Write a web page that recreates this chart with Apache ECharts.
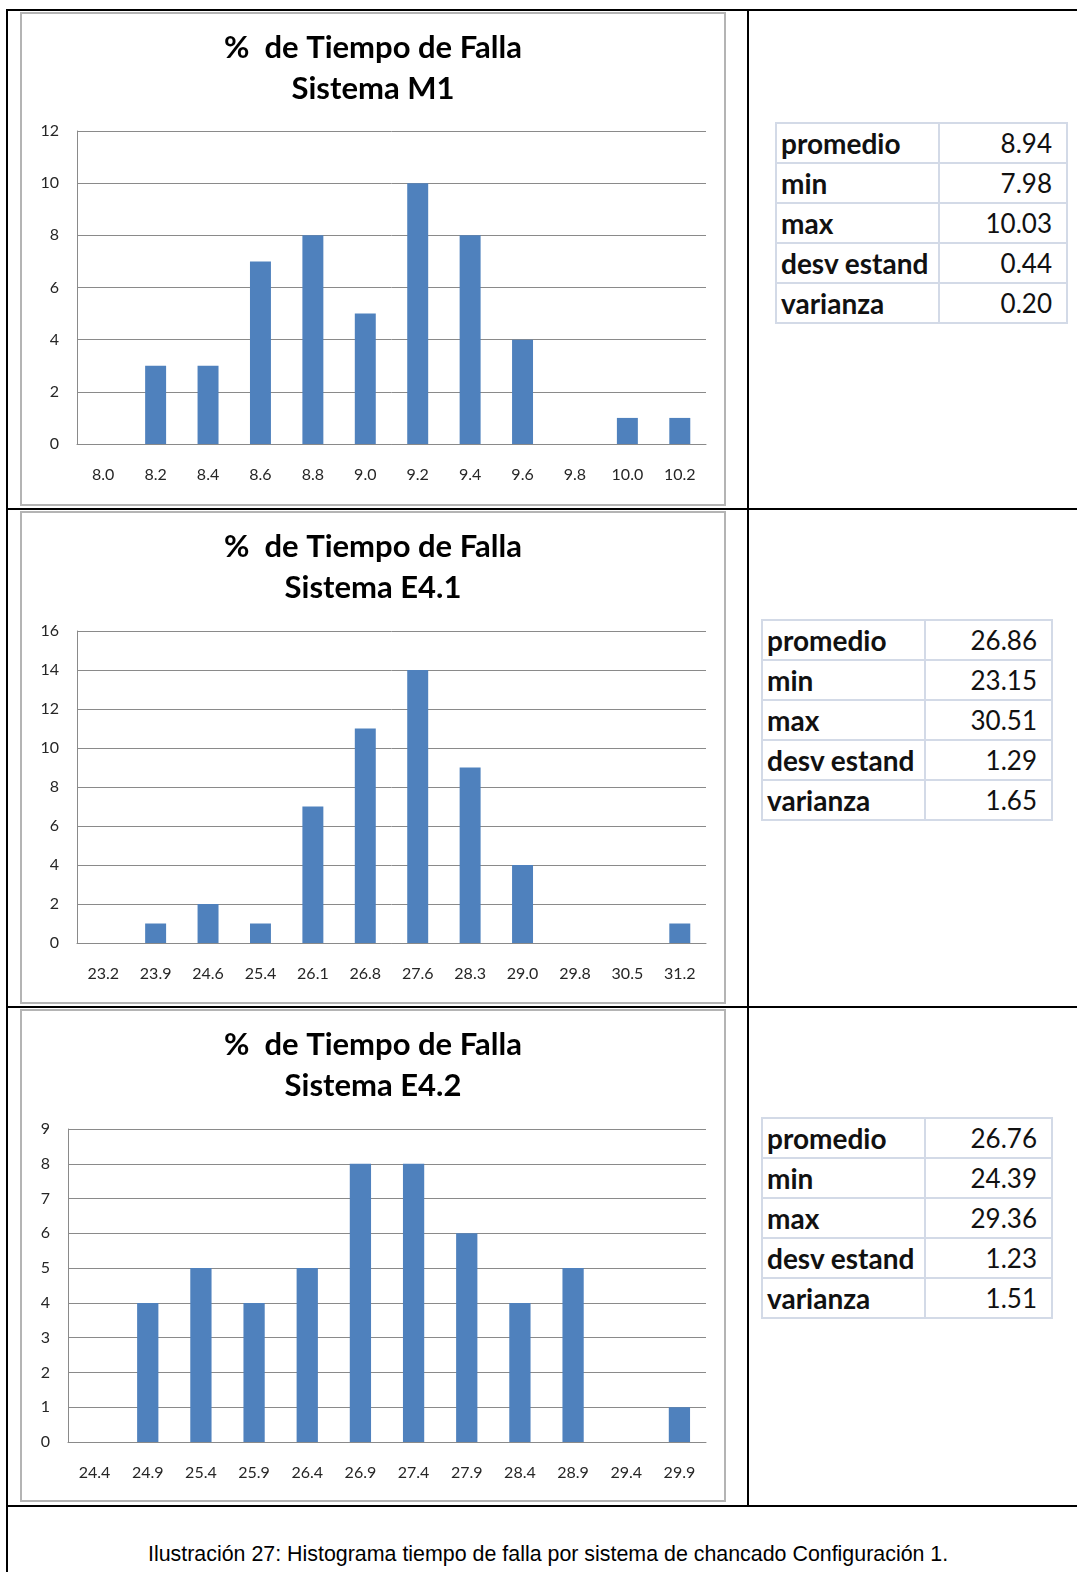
<!DOCTYPE html>
<html>
<head>
<meta charset="utf-8">
<script src="https://cdn.jsdelivr.net/npm/echarts@6/dist/echarts.min.js"></script>
<style>
  html, body { margin: 0; padding: 0; background: #fff; }
  body { position: relative; width: 1077px; height: 1572px; overflow: hidden; }
  .rule { position: absolute; background: #000; }
  .frame { position: absolute; box-sizing: border-box; border: 2px solid #b4b4b4; background: #fff; }
  .frame .chart { position: absolute; left: 0; top: 0; width: 702px; height: 489px; }
  table.stats { position: absolute; border-collapse: collapse; table-layout: fixed; font-family: Lato, "Open Sans", sans-serif; color: #111; }
  table.stats td { border: 2px solid #d3dae7; height: 38px; padding: 0 14px 0 4px; line-height: 38px; white-space: nowrap; overflow: hidden; }
  table.stats td.k { font-weight: 700; font-size: 28px; }
  table.stats td.v { text-align: right; font-weight: 400; font-size: 26px; }
  .caption { position: absolute; left: 148px; top: 1542px; font-family: "Liberation Sans", Arial, sans-serif; font-size: 21.4px; color: #000; white-space: nowrap; }
</style>
</head>
<body>

<!-- outer table rules -->
<div class="rule" style="left:6px; top:9px; width:1071px; height:2px;"></div>
<div class="rule" style="left:6px; top:9px; width:2px; height:1563px;"></div>
<div class="rule" style="left:747px; top:9px; width:2px; height:1498px;"></div>
<div class="rule" style="left:6px; top:508px; width:1071px; height:2px;"></div>
<div class="rule" style="left:6px; top:1006px; width:1071px; height:2px;"></div>
<div class="rule" style="left:6px; top:1505px; width:1071px; height:2px;"></div>

<div class="frame" style="left:20px; top:12px; width:706px; height:494px;"><div class="chart" id="c1"></div></div>
<div class="frame" style="left:20px; top:511px; width:706px; height:493px;"><div class="chart" id="c2"></div></div>
<div class="frame" style="left:20px; top:1009px; width:706px; height:493px;"><div class="chart" id="c3"></div></div>

<table class="stats" id="t1" style="left:775px; top:122px; width:293px;"><colgroup><col style="width:163px"><col></colgroup></table>
<table class="stats" id="t2" style="left:761px; top:619px; width:292px;"><colgroup><col style="width:163px"><col></colgroup></table>
<table class="stats" id="t3" style="left:761px; top:1117px; width:292px;"><colgroup><col style="width:163px"><col></colgroup></table>

<div class="caption">Ilustración 27: Histograma tiempo de falla por sistema de chancado Configuración 1.</div>

<script>
// Histogram bins (class marks) and frequencies per crushing system
const binsM1 = ['8.0', '8.2', '8.4', '8.6', '8.8', '9.0', '9.2', '9.4', '9.6', '9.8', '10.0', '10.2'];
const freqM1 = [0, 3, 3, 7, 8, 5, 10, 8, 4, 0, 1, 1];

const binsE41 = ['23.2', '23.9', '24.6', '25.4', '26.1', '26.8', '27.6', '28.3', '29.0', '29.8', '30.5', '31.2'];
const freqE41 = [0, 1, 2, 1, 7, 11, 14, 9, 4, 0, 0, 1];

const binsE42 = ['24.4', '24.9', '25.4', '25.9', '26.4', '26.9', '27.4', '27.9', '28.4', '28.9', '29.4', '29.9'];
const freqE42 = [0, 4, 5, 4, 5, 8, 8, 6, 4, 5, 0, 1];

// Value-axis ranges
const yAxisM1 = { max: 12, step: 2 };
const yAxisE41 = { max: 16, step: 2 };
const yAxisE42 = { max: 9, step: 1 };

// Summary statistics tables
const statLabels = ['promedio', 'min', 'max', 'desv estand', 'varianza'];
const statsM1 = ['8.94', '7.98', '10.03', '0.44', '0.20'];
const statsE41 = ['26.86', '23.15', '30.51', '1.29', '1.65'];
const statsE42 = ['26.76', '24.39', '29.36', '1.23', '1.51'];

const titleLine = '%  de Tiempo de Falla';

function fillTable(id, values) {
  const t = document.getElementById(id);
  const body = document.createElement('tbody');
  statLabels.forEach((lab, i) => {
    const tr = document.createElement('tr');
    const a = document.createElement('td'); a.className = 'k'; a.textContent = lab;
    const b = document.createElement('td'); b.className = 'v'; b.textContent = values[i];
    tr.appendChild(a); tr.appendChild(b); body.appendChild(tr);
  });
  t.appendChild(body);
}
fillTable('t1', statsM1);
fillTable('t2', statsE41);
fillTable('t3', statsE42);

const gridColor = '#8a8a8a';
const labelColor = '#262626';
const font = 'Lato, "Open Sans", sans-serif';

function histogram(id, system, bins, freq, yAxisCfg, grid) {
  const chart = echarts.init(document.getElementById(id), null, { renderer: 'canvas' });
  chart.setOption({
    animation: false,
    backgroundColor: '#fff',
    title: {
      text: titleLine + '\nSistema ' + system,
      left: 'center',
      top: 8,
      textStyle: { fontFamily: font, fontWeight: 'bold', fontSize: 31, lineHeight: 41, color: '#000' }
    },
    grid: Object.assign({ outerBoundsMode: 'none', containLabel: false }, grid),
    xAxis: {
      type: 'category',
      data: bins,
      axisLine: { show: true, lineStyle: { color: gridColor, width: 1 } },
      axisTick: { show: false },
      axisLabel: { interval: 0, margin: 23, color: labelColor, fontFamily: font, fontSize: 16 },
      splitLine: { show: false }
    },
    yAxis: {
      type: 'value',
      min: 0,
      max: yAxisCfg.max,
      interval: yAxisCfg.step,
      axisLine: { show: true, lineStyle: { color: gridColor, width: 1 } },
      axisTick: { show: false },
      axisLabel: { margin: 18, color: labelColor, fontFamily: font, fontSize: 16 },
      splitLine: { show: true, lineStyle: { color: gridColor, width: 1 } }
    },
    series: [{
      type: 'bar',
      data: freq,
      barCategoryGap: '60%',
      itemStyle: { color: '#4f81bd' }
    }]
  });
}

histogram('c1', 'M1', binsM1, freqM1, yAxisM1, { left: 55, top: 117, width: 629, height: 313 });
histogram('c2', 'E4.1', binsE41, freqE41, yAxisE41, { left: 55, top: 118, width: 629, height: 312 });
histogram('c3', 'E4.2', binsE42, freqE42, yAxisE42, { left: 46, top: 118, width: 638, height: 313 });
</script>
</body>
</html>
